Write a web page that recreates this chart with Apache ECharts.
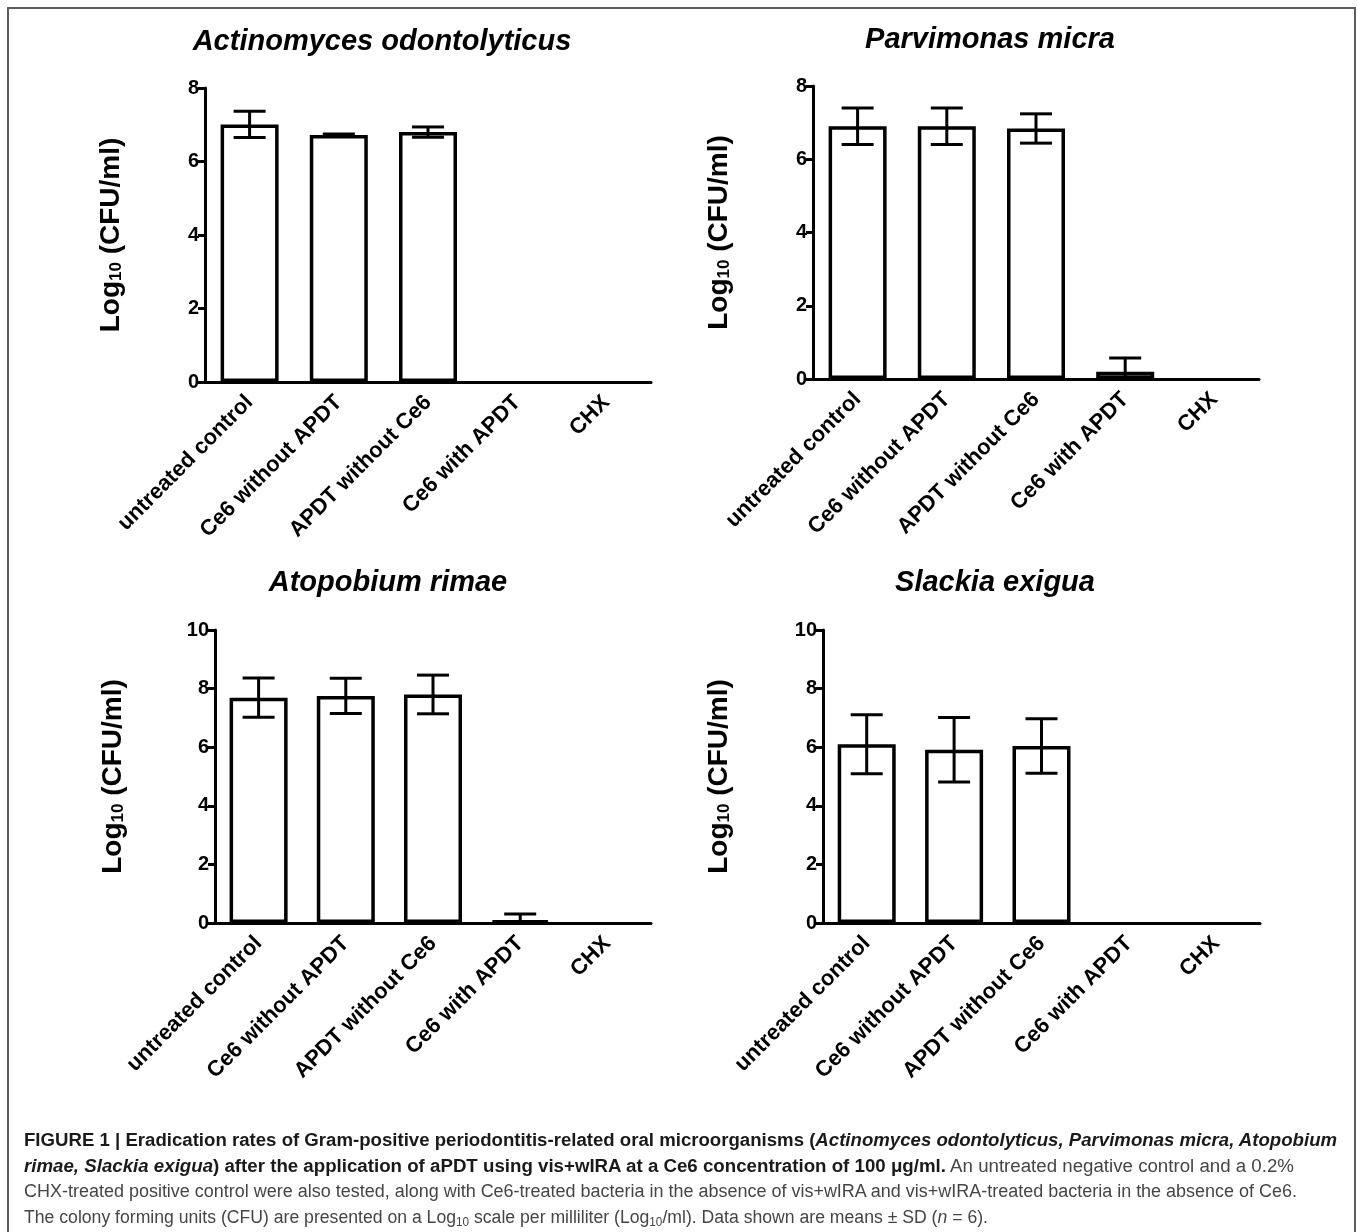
<!DOCTYPE html>
<html>
<head>
<meta charset="utf-8">
<title>Figure 1</title>
<script src="https://cdn.jsdelivr.net/npm/echarts@6/dist/echarts.min.js"></script>
<style>
  html, body { margin: 0; padding: 0; background: #fff; }
  #chart { position: absolute; left: 0; top: 0; width: 1358px; height: 1232px; }
  #caption { position: absolute; left: 24px; top: 1128px; font-family: "Liberation Sans", Arial, sans-serif; font-size: 18px; color: #454545; }
  #caption .ln { display: block; height: 25.5px; line-height: 25.5px; }
  #caption .ln span.fit { display: inline-block; white-space: nowrap; transform-origin: 0 50%; }
  #caption b { color: #1a1a1a; }
  #caption sub { font-size: 12px; vertical-align: -3px; line-height: 0; }
</style>
</head>
<body>
<div id="chart"></div>
<div id="caption">
  <div class="ln"><span class="fit" data-w="1313"><b>FIGURE 1 | Eradication rates of Gram-positive periodontitis-related oral microorganisms (<i>Actinomyces odontolyticus, Parvimonas micra, Atopobium</i></b></span></div>
  <div class="ln"><span class="fit" data-w="1270"><b><i>rimae, Slackia exigua</i>) after the application of aPDT using vis+wIRA at a Ce6 concentration of 100 μg/ml.</b> An untreated negative control and a 0.2%</span></div>
  <div class="ln"><span class="fit" data-w="1273">CHX-treated positive control were also tested, along with Ce6-treated bacteria in the absence of vis+wIRA and vis+wIRA-treated bacteria in the absence of Ce6.</span></div>
  <div class="ln"><span class="fit" data-w="964">The colony forming units (CFU) are presented on a Log<sub>10</sub> scale per milliliter (Log<sub>10</sub>/ml). Data shown are means ± SD (<i>n</i> = 6).</span></div>
</div>
<script>
// 数据
var categories = ['untreated control', 'Ce6 without APDT', 'APDT without Ce6', 'Ce6 with APDT', 'CHX'];
var panelTitles = ['Actinomyces odontolyticus', 'Parvimonas micra', 'Atopobium rimae', 'Slackia exigua'];
var yMaxList = [8, 8, 10, 10];
var yStep = 2;

var meanActino = [7.01, 6.72, 6.80, 0, 0];
var sdActino   = [0.36, 0.03, 0.14, 0, 0];
var meanParvi  = [6.90, 6.90, 6.84, 0.20, 0];
var sdParvi    = [0.50, 0.50, 0.40, 0.37, 0];
var meanAtopo  = [7.69, 7.75, 7.80, 0.08, 0];
var sdAtopo    = [0.67, 0.60, 0.66, 0.23, 0];
var meanSlack  = [6.10, 5.91, 6.04, 0, 0];
var sdSlack    = [1.01, 1.10, 0.93, 0, 0];

var means = [meanActino, meanParvi, meanAtopo, meanSlack];
var sds = [sdActino, sdParvi, sdAtopo, sdSlack];

var FONT = '"Liberation Sans", Arial, Helvetica, sans-serif';

// 每个子图的位置
var grids = [
  { left: 205, top: 88,  width: 446, height: 294 },
  { left: 813, top: 86,  width: 446, height: 293 },
  { left: 215, top: 630, width: 436, height: 293 },
  { left: 823, top: 630, width: 437, height: 293 }
];
var nameGaps = [80, 80, 88, 90];
var titlePos = [[382, 42], [990, 40], [388, 583], [995, 583]];

var chart = echarts.init(document.getElementById('chart'), null, { renderer: 'canvas' });

// 误差线
function renderErr(params, api) {
  var i = api.value(0), m = api.value(1), s = api.value(2);
  if (!s) return;
  var hi = m + s;
  var lo = Math.max(0, m - s);
  var pHi = api.coord([i, hi]);
  var pLo = api.coord([i, lo]);
  var half = 16;
  var st = { stroke: '#000', lineWidth: 3 };
  var kids = [
    { type: 'line', shape: { x1: pHi[0], y1: pHi[1], x2: pLo[0], y2: pLo[1] }, style: st },
    { type: 'line', shape: { x1: pHi[0] - half, y1: pHi[1], x2: pHi[0] + half, y2: pHi[1] }, style: st }
  ];
  if (m - s > 0) {
    kids.push({ type: 'line', shape: { x1: pLo[0] - half, y1: pLo[1], x2: pLo[0] + half, y2: pLo[1] }, style: st });
  }
  return { type: 'group', children: kids };
}

var xAxes = [], yAxes = [], series = [], graphics = [];

for (var k = 0; k < 4; k++) {
  xAxes.push({
    type: 'category',
    gridIndex: k,
    data: categories,
    axisLine: { lineStyle: { color: '#000', width: 3 } },
    axisTick: { alignWithLabel: true, length: 8, lineStyle: { color: '#000', width: 3 } },
    axisLabel: { rotate: 45, margin: 17, color: '#000', fontSize: 22, fontWeight: 'bold', fontFamily: FONT, interval: 0 },
    splitLine: { show: false }
  });
  yAxes.push({
    type: 'value',
    gridIndex: k,
    min: 0,
    max: yMaxList[k],
    interval: yStep,
    name: '{a|Log}{b|10}{a| (CFU/ml)}',
    nameLocation: 'middle',
    nameRotate: 90,
    nameGap: nameGaps[k],
    nameTextStyle: {
      rich: {
        a: { fontSize: 28, fontWeight: 'bold', fontFamily: FONT, color: '#000' },
        b: { fontSize: 17, fontWeight: 'bold', fontFamily: FONT, color: '#000', verticalAlign: 'bottom' }
      }
    },
    axisLine: { show: true, lineStyle: { color: '#000', width: 3 } },
    axisTick: { show: true, length: 7, lineStyle: { color: '#000', width: 3 } },
    axisLabel: { margin: 6, color: '#000', fontSize: 20, fontWeight: 'bold', fontFamily: FONT },
    splitLine: { show: false }
  });
  series.push({
    type: 'bar',
    xAxisIndex: k,
    yAxisIndex: k,
    // 值为0的柱子不画边框
    data: means[k].map(function (v) {
      return v > 0 ? v : { value: v, itemStyle: { borderWidth: 0, color: 'transparent' } };
    }),
    barWidth: 58,
    itemStyle: { color: '#fff', borderColor: '#000', borderWidth: 3.5 },
    silent: true,
    z: 2
  });
  series.push({
    type: 'custom',
    xAxisIndex: k,
    yAxisIndex: k,
    renderItem: renderErr,
    encode: { x: 0, y: 1 },
    data: means[k].map(function (v, i) { return [i, v, sds[k][i]]; }),
    silent: true,
    z: 5
  });
  graphics.push({
    type: 'text',
    x: titlePos[k][0],
    y: titlePos[k][1],
    style: {
      text: panelTitles[k],
      font: 'italic bold 29px ' + FONT,
      fill: '#000',
      textAlign: 'center',
      textVerticalAlign: 'middle'
    }
  });
}

// 外框
graphics.push({
  type: 'rect',
  shape: { x: 8, y: 8, width: 1347, height: 1300 },
  style: { fill: 'none', stroke: '#5e5e5e', lineWidth: 2 },
  silent: true
});

chart.setOption({
  animation: false,
  backgroundColor: '#fff',
  grid: grids.map(function (g) { return Object.assign({ containLabel: false }, g); }),
  xAxis: xAxes,
  yAxis: yAxes,
  series: series,
  graphic: graphics
});

// 图注每行按原图宽度压缩
var fits = document.querySelectorAll('#caption span.fit');
for (var n = 0; n < fits.length; n++) {
  var el = fits[n];
  var target = parseFloat(el.getAttribute('data-w'));
  var w = el.getBoundingClientRect().width;
  if (w > 0) el.style.transform = 'scaleX(' + (target / w).toFixed(4) + ')';
}
</script>
</body>
</html>
